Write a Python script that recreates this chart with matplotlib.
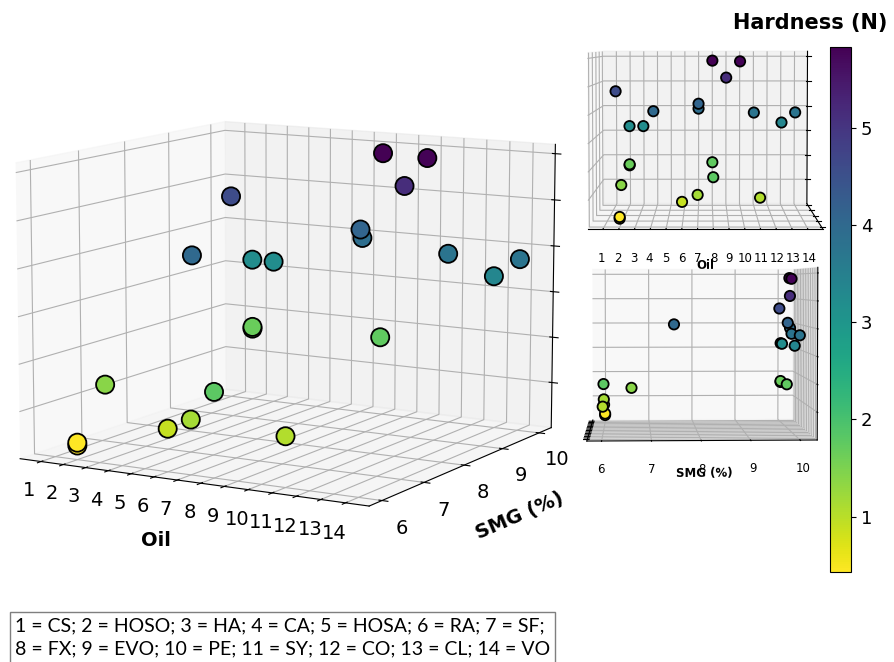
import numpy as np
import matplotlib
matplotlib.use("Agg")
import matplotlib.pyplot as plt
from matplotlib.colors import Normalize
from matplotlib.cm import ScalarMappable
from matplotlib.patches import Rectangle

# one entry per sample: oil number, SMG level (%), hardness (N)
oil = [1, 2, 3, 4, 7, 7, 8, 9, 10, 11, 13, 14,
       2, 2, 8, 8, 2, 2, 2, 6, 7, 11]
smg = [10.0, 10.0, 10.0, 7.55, 10.0, 10.05, 10.0, 9.98, 9.98, 9.95, 9.95, 10.02,
       10.0, 10.0, 9.95, 6.0, 6.6, 6.0, 6.0, 6.0, 6.0, 6.0]
hard = [4.6, 3.2, 3.2, 4.0, 4.1, 3.9, 5.83, 5.15, 5.8, 3.75, 3.35, 3.75,
        1.62, 1.66, 1.75, 1.78, 1.4, 0.3, 0.36, 0.9, 1.15, 1.05]

oil_ticks = list(range(1, 15))
smg_ticks = [6, 7, 8, 9, 10]
z_ticks = [1, 2, 3, 4, 5, 6]
cbar_ticks = [1, 2, 3, 4, 5]
cbar_range = (0.43, 5.83)
legend_text = ("1 = CS; 2 = HOSO; 3 = HA; 4 = CA; 5 = HOSA; 6 = RA; 7 = SF;\n"
               "8 = FX; 9 = EVO; 10 = PE; 11 = SY; 12 = CO; 13 = CL; 14 = VO")

cmap = "viridis_r"
norm = Normalize(*cbar_range, clip=True)

fig = plt.figure(figsize=(8.95, 6.62), dpi=100)


def make_3d(rect, size, elev, azim, zoom=1.0):
    ax = fig.add_axes(rect, projection="3d")
    ax.patch.set_alpha(0)
    ax.scatter(oil, smg, hard, c=hard, cmap=cmap, norm=norm, s=size,
               edgecolors="black", linewidths=1.3, depthshade=False, alpha=1)
    ax.view_init(elev=elev, azim=azim)
    ax.set_xticks(oil_ticks)
    ax.set_yticks(smg_ticks)
    ax.set_zticks(z_ticks)
    ax.set_zticklabels([])
    ax.set_zlim(0, 6.2)
    ax.set_box_aspect(None, zoom=zoom)
    ax.zaxis.set_ticks_position("upper")
    return ax


# main view
ax = make_3d([-0.073, 0.096, 0.78, 0.88], 170, 10, -60, zoom=1.045)
ax.set_xticklabels(oil_ticks, fontsize=14)
ax.set_yticklabels(smg_ticks, fontsize=14)
ax.set_xlabel("Oil", fontsize=14, fontweight="bold", labelpad=12)
ax.set_ylabel("SMG (%)", fontsize=14, fontweight="bold", labelpad=12)

# front view: oil vs hardness
ax2 = make_3d([0.594, 0.582, 0.38, 0.42], 55, 3.5, -90, zoom=1.22)
ax2.set_xticklabels(oil_ticks, fontsize=8.5)
ax2.set_yticklabels([])
ax2.set_xlabel("Oil", fontsize=8.5, fontweight="bold", labelpad=-3)

# side view: SMG vs hardness
ax3 = make_3d([0.585, 0.257, 0.38, 0.42], 55, 2.5, -2.5, zoom=1.2)
ax3.set_xticklabels([])
ax3.set_yticklabels(smg_ticks, fontsize=8.5)
ax3.set_ylabel("SMG (%)", fontsize=8.5, fontweight="bold", labelpad=-4)

# colour bar
cax = fig.add_axes([0.927, 0.136, 0.024, 0.793])
cb = fig.colorbar(ScalarMappable(norm=norm, cmap=cmap), cax=cax, ticks=cbar_ticks)
cb.ax.tick_params(labelsize=13)
fig.text(0.905, 0.965, "Hardness (N)", fontsize=15, fontweight="bold", ha="center", va="center")

# oil code key
fig.patches.append(Rectangle((10 / 895, -0.02), 545 / 895, (662 - 612) / 662 + 0.02,
                             transform=fig.transFigure, fc="white", ec="#7f7f7f", lw=1))
fig.text(15 / 895, (662 - 617) / 662, legend_text, fontsize=14, family="Lato",
         va="top", ha="left", linespacing=1.42)

fig.savefig("out.png", dpi=100)
